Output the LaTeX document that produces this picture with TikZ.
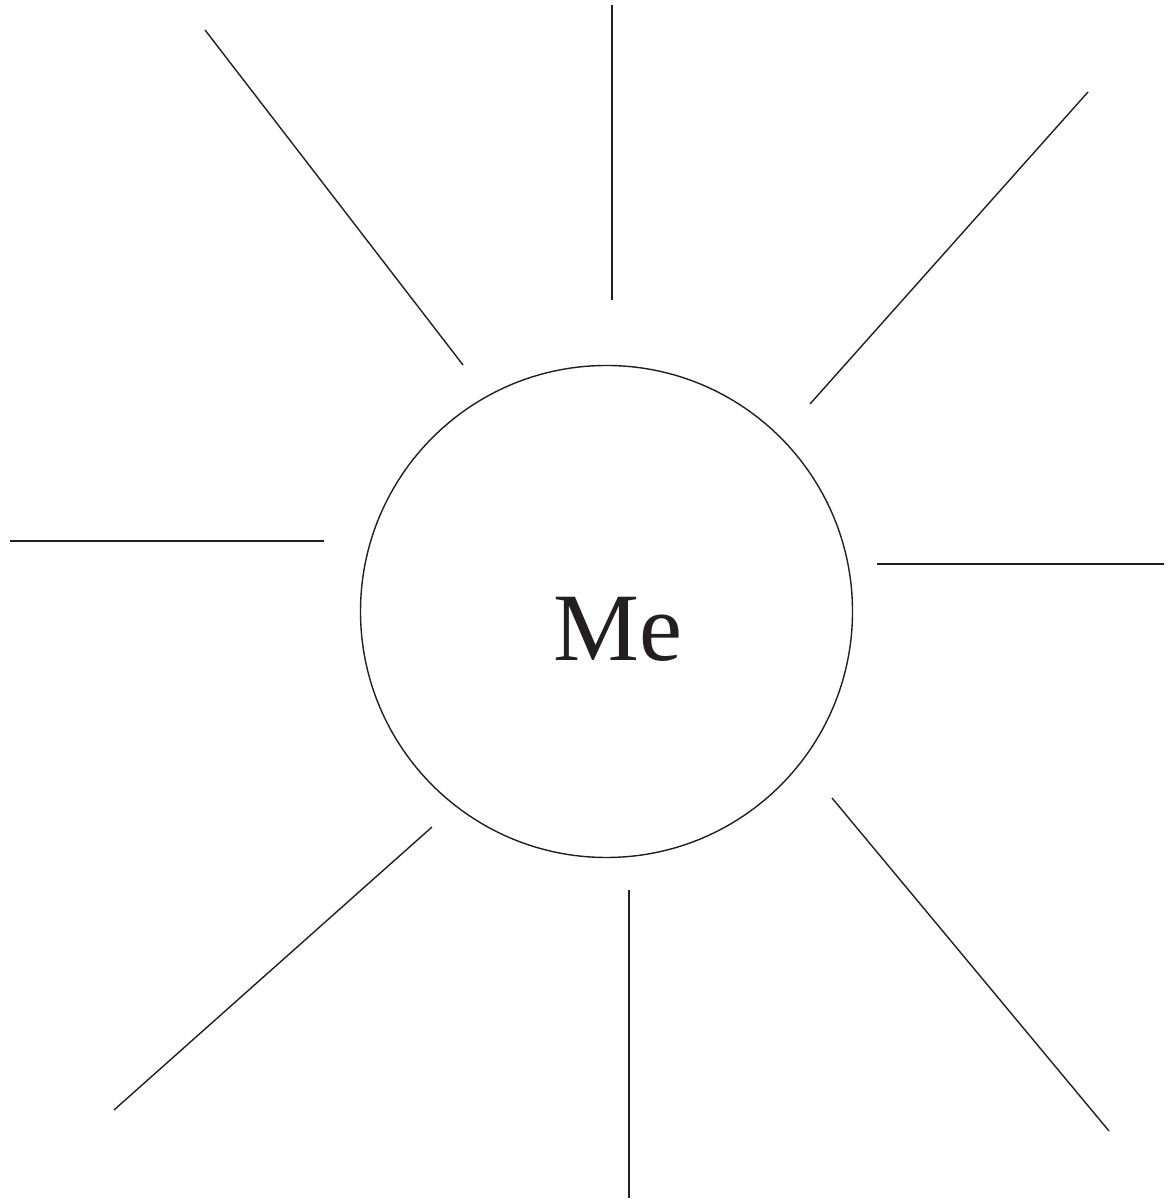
\documentclass[tikz,border=0pt]{standalone}
\usepackage{fontspec}
\setmainfont{Liberation Serif}
\usepackage{tikz}
\usetikzlibrary{positioning}
\usepackage{xcolor}
\definecolor{inkgray}{RGB}{35, 31, 32}

\begin{document}
\begin{tikzpicture}[
    ray/.style={inkgray, line width=0.8pt},
    selfring/.style={circle, draw=inkgray, line width=0.8pt, minimum size=9.84cm, inner sep=0pt}]
  \useasboundingbox (0,0) rectangle (23.34,24);
  %--- the centre ------------------------------------------------------------
  \node[selfring] (me) at (12.13,11.77) {};
  \node[anchor=base, inner sep=0pt, text=inkgray,
        font=\fontsize{55}{60}\selectfont] (melabel) at (12.36,10.78) {Me};
  %--- the rays --------------------------------------------------------------
  \foreach \xa/\ya/\xb/\yb in {
      4.10/23.40/9.26/16.70,
      12.24/23.90/12.24/18.00,
      21.76/22.16/16.20/15.92,
      0.20/13.18/6.48/13.18,
      17.54/12.72/23.28/12.72,
      8.64/7.46/2.28/1.80,
      12.58/6.20/12.58/0.04,
      16.64/8.04/22.18/1.38}
    \draw[ray] (\xa,\ya) -- (\xb,\yb);
\end{tikzpicture}
\end{document}
